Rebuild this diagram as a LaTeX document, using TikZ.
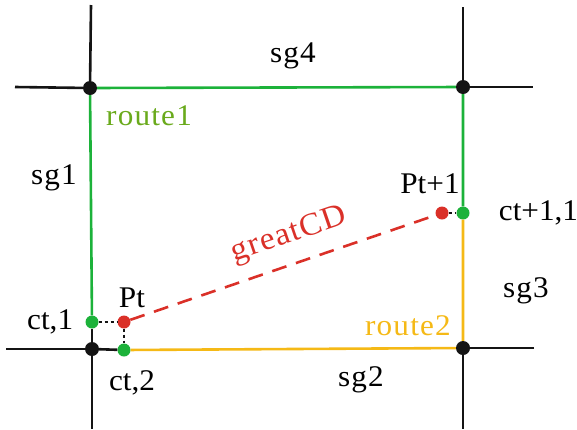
\documentclass[tikz,border=0pt]{standalone}
\usepackage{fontspec}
\setmainfont{Liberation Serif}
\newfontfamily\ptfont[FakeStretch=1.04]{Liberation Serif}
\newfontfamily\sgfont[FakeStretch=1.04,LetterSpace=4]{Liberation Serif}
\usetikzlibrary{positioning}
\definecolor{routegreen}{RGB}{28,178,58}
\definecolor{labelgreen}{RGB}{106,170,28}
\definecolor{routeorange}{RGB}{245,185,22}
\definecolor{cdred}{RGB}{218,48,40}
\definecolor{gridblack}{RGB}{20,20,20}
\tikzset{
  road/.style    = {draw=gridblack, line width=2.6pt},
  rgreen/.style  = {draw=routegreen, line width=2.6pt},
  rorange/.style = {draw=routeorange, line width=2.6pt},
  cross/.style   = {circle, fill=gridblack, inner sep=0pt, minimum size=14pt},
  gdot/.style    = {circle, fill=routegreen, inner sep=0pt, minimum size=13pt},
  rdot/.style    = {circle, fill=cdred, inner sep=0pt, minimum size=13pt},
  link/.style    = {draw=gridblack, line width=2pt, dash pattern=on 3pt off 3pt},
  cd/.style      = {draw=cdred, line width=2.6pt, dash pattern=on 15pt off 10pt},
  lbl/.style     = {inner sep=0pt, font=\fontsize{30}{34}\ptfont},
  seg/.style     = {inner sep=0pt, font=\fontsize{30}{34}\sgfont}
}
\begin{document}
\begin{tikzpicture}[x=1pt, y=-1pt]
  \useasboundingbox (0,0) rectangle (577,429);
  % crossings
  \node[cross] (tl) at (90,88)  {};
  \node[cross] (tr) at (463,87) {};
  \node[cross] (bl) at (92,349) {};
  \node[cross] (br) at (463,348) {};
  % stub ends
  \coordinate (tlN) at (91,5);   \coordinate (tlW) at (15,87);
  \coordinate (trN) at (463,7);  \coordinate (trE) at (533,87);
  \coordinate (blW) at (6,349);  \coordinate (blS) at (92,429);
  \coordinate (brE) at (534,348); \coordinate (brS) at (463,429);
  % points on the routes
  \node[gdot] (ct1) at (92,322)  {};
  \node[rdot] (pt)  at (124,322) {};
  \node[gdot] (ct2) at (124,350) {};
  \node[rdot] (pt1) at (442,213) {};
  \node[gdot] (ctn) at (463,213) {};

  \draw[road] (tlN) -- (tl) -- (tlW);
  \draw[road] (trN) -- (tr) -- (trE);
  \draw[road] (blW) -- (bl) -- (blS);
  \draw[road] (brE) -- (br) -- (brS);
  \draw[road] (bl) -- (ct1);
  \draw[road] (bl) -- (ct2);
  \draw[rgreen] (ct1) -- (tl) -- (tr) -- (ctn);
  \draw[rorange] (ct2) -- (br) -- (ctn);
  \draw[link] (ct1) -- (pt) -- (ct2);
  \draw[link] (pt1) -- (ctn);
  \draw[cd] (pt) -- node[seg, text=cdred, sloped, pos=0.55, above=13pt,
    font=\fontsize{32}{36}\sgfont]{greatCD} (pt1);

  % labels
  \node[lbl, left=12pt of ct1] {ct,1};
  \node[lbl, above=7pt of pt, xshift=8pt] {Pt};
  \node[lbl, below=14pt of ct2, xshift=8pt] {ct,2};
  \node[lbl, above=12pt of pt1, xshift=-12pt] {Pt+1};
  \node[lbl, right=29pt of ctn] {ct+1,1};
  \node[seg, text=labelgreen, anchor=base west] at (106,125) {route1};
  \node[seg, text=routeorange, anchor=base east] at (451,335) {route2};
  \node[seg, anchor=base] at (293,62)  {sg4};
  \node[seg, anchor=base] at (54,184)  {sg1};
  \node[seg, anchor=base] at (526,297) {sg3};
  \node[seg, anchor=base] at (361,386) {sg2};
\end{tikzpicture}
\end{document}
